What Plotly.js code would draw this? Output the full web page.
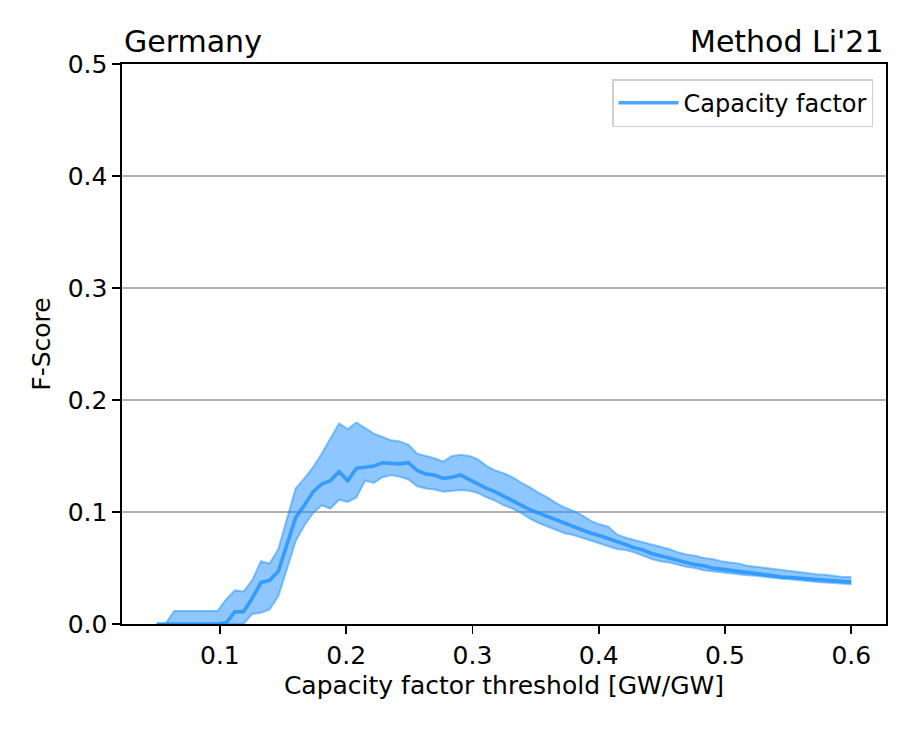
<!DOCTYPE html>
<html>
<head>
<meta charset="utf-8">
<script src="https://cdn.plot.ly/plotly-3.0.1.min.js"></script>
<style>html,body{margin:0;padding:0;background:#fff;}#chart{width:913px;height:731px;}</style>
</head>
<body>
<div id="chart"></div>
<script>
const thresholds = [0.05,0.0569,0.0638,0.0706,0.0775,0.0844,0.0913,0.0981,0.105,0.1119,
0.1188,0.1256,0.1325,0.1394,0.1463,0.1531,0.16,0.1669,0.1738,0.1806,
0.1875,0.1944,0.2013,0.2081,0.215,0.2219,0.2288,0.2356,0.2425,0.2494,
0.2563,0.2631,0.27,0.2769,0.2838,0.2906,0.2975,0.3044,0.3113,0.3181,
0.325,0.3319,0.3388,0.3456,0.3525,0.3594,0.3663,0.3731,0.38,0.3869,
0.3938,0.4006,0.4075,0.4144,0.4213,0.4281,0.435,0.4419,0.4488,0.4556,
0.4625,0.4694,0.4763,0.4831,0.49,0.4969,0.5038,0.5106,0.5175,0.5244,
0.5313,0.5381,0.545,0.5519,0.5588,0.5656,0.5725,0.5794,0.5863,0.5931,0.6];

const fscoreMean = [0,0,0,0,0,0,0,0,0.001,0.011,
0.011,0.023,0.037,0.039,0.047,0.071,0.095,0.106,0.118,0.125,
0.128,0.136,0.128,0.139,0.140,0.141,0.144,0.1435,0.143,0.144,
0.137,0.134,0.133,0.130,0.131,0.133,0.129,0.125,0.121,0.118,
0.114,0.110,0.106,0.102,0.099,0.096,0.093,0.090,0.087,0.084,
0.081,0.079,0.0765,0.074,0.071,0.068,0.066,0.063,0.061,0.059,
0.057,0.055,0.053,0.052,0.050,0.049,0.048,0.047,0.0455,0.0445,
0.0435,0.043,0.042,0.0415,0.041,0.040,0.0395,0.039,0.0385,0.038,0.0375];

const fscoreUpper = [0,0,0.0116,0.0116,0.0116,0.0116,0.0116,0.0116,0.022,0.030,
0.029,0.039,0.056,0.054,0.067,0.094,0.121,0.130,0.140,0.152,
0.166,0.179,0.174,0.180,0.175,0.170,0.167,0.164,0.163,0.160,
0.152,0.150,0.148,0.145,0.150,0.151,0.150,0.147,0.141,0.137,
0.1345,0.131,0.126,0.122,0.117,0.113,0.108,0.104,0.101,0.097,
0.092,0.089,0.087,0.080,0.077,0.075,0.073,0.071,0.069,0.067,
0.064,0.062,0.061,0.059,0.058,0.056,0.055,0.054,0.052,0.051,
0.050,0.049,0.048,0.047,0.046,0.045,0.0445,0.044,0.043,0.042,0.042];

const fscoreLower = [0,0,0,0,0,0,0,0,0,0,
0,0.009,0.010,0.013,0.025,0.049,0.074,0.088,0.099,0.106,
0.103,0.111,0.109,0.113,0.128,0.126,0.131,0.133,0.1315,0.129,
0.123,0.121,0.120,0.118,0.119,0.1196,0.119,0.117,0.113,0.110,
0.106,0.103,0.099,0.094,0.090,0.087,0.084,0.081,0.0795,0.077,
0.074,0.072,0.069,0.067,0.066,0.064,0.061,0.058,0.056,0.055,
0.053,0.051,0.050,0.048,0.047,0.046,0.045,0.044,0.0435,0.043,
0.042,0.041,0.0405,0.040,0.039,0.038,0.0375,0.037,0.0365,0.036,0.0355];

const xTicks = [0.1,0.2,0.3,0.4,0.5,0.6];
const yTicks = [0.0,0.1,0.2,0.3,0.4,0.5];
const seriesName = 'Capacity factor';
const leftTitle = 'Germany';
const rightTitle = "Method Li'21";
const xLabel = 'Capacity factor threshold [GW/GW]';
const yLabel = 'F-Score';

const bandColor = 'rgba(30,144,255,0.5)';
const font = 'DejaVu Sans, sans-serif';

const traces = [
  {x: thresholds, y: fscoreLower, mode: 'lines', line: {color: bandColor, width: 2},
   showlegend: false, hoverinfo: 'skip'},
  {x: thresholds, y: fscoreUpper, mode: 'lines', fill: 'tonexty', fillcolor: bandColor,
   line: {color: bandColor, width: 2}, showlegend: false, hoverinfo: 'skip'},
  {x: thresholds, y: fscoreMean, mode: 'lines', name: seriesName,
   line: {color: 'rgba(30,144,255,0.8)', width: 3.6}}
];

const layout = {
  width: 913, height: 731,
  margin: {l: 122, r: 27, t: 64, b: 107},
  paper_bgcolor: '#fff', plot_bgcolor: '#fff',
  font: {family: font, size: 25, color: '#000'},
  showlegend: true,
  legend: {x: 0.983, y: 0.973, xanchor: 'right', yanchor: 'top',
    bordercolor: '#d0d0d0', borderwidth: 1.5, bgcolor: 'rgba(255,255,255,0.8)',
    font: {family: font, size: 24, color: '#000'}, itemwidth: 60, tracegroupgap: 0},
  xaxis: {
    range: [0.0225, 0.6275], tickvals: xTicks, ticktext: xTicks.map(v => v.toFixed(1)),
    ticks: 'outside', ticklen: 8, tickwidth: 1.6, tickcolor: '#000',
    showline: true, linecolor: '#000', linewidth: 1.6, mirror: true,
    showgrid: false, zeroline: false,
    tickfont: {family: font, size: 25, color: '#000'},
    title: {text: xLabel, font: {family: font, size: 25, color: '#000'}, standoff: 8}
  },
  yaxis: {
    range: [0, 0.5], tickvals: yTicks, ticktext: yTicks.map(v => v.toFixed(1)),
    ticks: 'outside', ticklen: 8, tickwidth: 1.6, tickcolor: '#000',
    showline: true, linecolor: '#000', linewidth: 1.6, mirror: true,
    showgrid: true, gridcolor: '#b0b0b0', gridwidth: 1.6, zeroline: false,
    tickfont: {family: font, size: 25, color: '#000'},
    title: {text: yLabel, font: {family: font, size: 25, color: '#000'}, standoff: 10}
  },
  annotations: [
    {text: leftTitle, xref: 'paper', yref: 'paper', x: 0, y: 1, xanchor: 'left', yanchor: 'bottom',
     yshift: 3, showarrow: false, font: {family: font, size: 30, color: '#000'}},
    {text: rightTitle, xref: 'paper', yref: 'paper', x: 1, y: 1, xanchor: 'right', yanchor: 'bottom',
     yshift: 3, showarrow: false, font: {family: font, size: 30, color: '#000'}}
  ]
};

Plotly.newPlot('chart', traces, layout, {displayModeBar: false, staticPlot: true});
</script>
</body>
</html>
